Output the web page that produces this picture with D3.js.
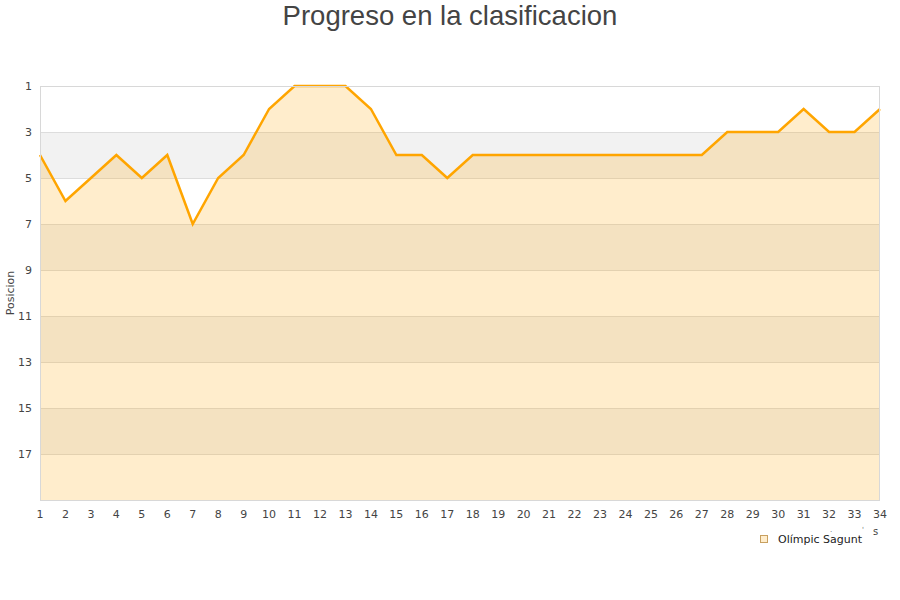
<!DOCTYPE html>
<html><head><meta charset="utf-8">
<script src="https://cdn.jsdelivr.net/npm/d3@7"></script>
<style>body{margin:0;background:#fff}svg{display:block}</style>
</head><body>
<svg id="c" width="900" height="600"></svg>
<script>
const jornadas = d3.range(1, 35);
const posiciones = [4,6,5,4,5,4,7,5,4,2,1,1,1,2,4,4,5,4,4,4,4,4,4,4,4,4,4,3,3,3,2,3,3,2];
const yTicks = [1,3,5,7,9,11,13,15,17];
const bands = [[3,5],[7,9],[11,13],[15,17]];
const teamName = "Olímpic Sagunt";
const title = "Progreso en la clasificacion";
const yTitle = "Posicion";

const svg = d3.select("#c");
const m = {l:40, r:880, t:86, b:500};
const x = d3.scaleLinear().domain([1,34]).range([m.l, m.r]);
const y = d3.scaleLinear().domain([1,19]).range([m.t, m.b]);

svg.append("text").attr("x",450).attr("y",25).attr("text-anchor","middle")
  .attr("font-family","Liberation Sans, Arial, sans-serif").attr("font-size",27.5).attr("fill","#444").text(title);

svg.selectAll("rect.band").data(bands).join("rect").attr("class","band")
  .attr("x",m.l).attr("width",m.r-m.l).attr("y",d=>y(d[0])).attr("height",d=>y(d[1])-y(d[0]))
  .attr("fill","#f2f2f2");
svg.selectAll("line.grid").data(yTicks).join("line").attr("class","grid")
  .attr("x1",m.l).attr("x2",m.r).attr("y1",d=>y(d)+0.5).attr("y2",d=>y(d)+0.5)
  .attr("stroke","#dddddd").attr("stroke-width",1);

const area = d3.area().x((d,i)=>x(jornadas[i])).y0(m.b).y1(d=>y(d));
svg.append("path").datum(posiciones).attr("d",area).attr("fill","rgb(255,165,0)").attr("fill-opacity",0.2);
const line = d3.line().x((d,i)=>x(jornadas[i])).y(d=>y(d));
svg.append("path").datum(posiciones).attr("d",line).attr("fill","none").attr("stroke","#ffa500").attr("stroke-width",2.5).attr("stroke-linejoin","miter");

svg.append("rect").attr("x",m.l+0.5).attr("y",m.t+0.5).attr("width",m.r-m.l-1).attr("height",m.b-m.t)
  .attr("fill","none").attr("stroke","#d8d8d8");

const fnt = "DejaVu Sans, Verdana, sans-serif";
svg.selectAll("text.yt").data(yTicks).join("text").attr("class","yt")
  .attr("x",32).attr("y",d=>y(d)+4).attr("text-anchor","end")
  .attr("font-family",fnt).attr("font-size",11).attr("fill","#444").text(d=>d);
svg.selectAll("text.xt").data(jornadas).join("text").attr("class","xt")
  .attr("x",d=>x(d)).attr("y",518).attr("text-anchor","middle")
  .attr("font-family",fnt).attr("font-size",11).attr("fill","#444").text(d=>d);

svg.append("text").attr("transform","translate(14,293) rotate(-90)").attr("text-anchor","middle")
  .attr("font-family",fnt).attr("font-size",11).attr("fill","#444").text(yTitle);

svg.append("text").attr("x",873).attr("y",535).attr("font-family",fnt).attr("font-size",10).attr("fill","#444").text("s");
svg.append("text").attr("x",830).attr("y",532).attr("font-family",fnt).attr("font-size",7).attr("fill","#666").text(".");
svg.append("text").attr("x",862).attr("y",532).attr("font-family",fnt).attr("font-size",7).attr("fill","#666").text("'");

svg.append("rect").attr("x",760.5).attr("y",535.5).attr("width",7).attr("height",7)
  .attr("fill","#ffedcc").attr("stroke","#c8a060");
svg.append("text").attr("x",778).attr("y",543).attr("font-family",fnt).attr("font-size",11).attr("fill","#222").text(teamName);
</script>
</body></html>
